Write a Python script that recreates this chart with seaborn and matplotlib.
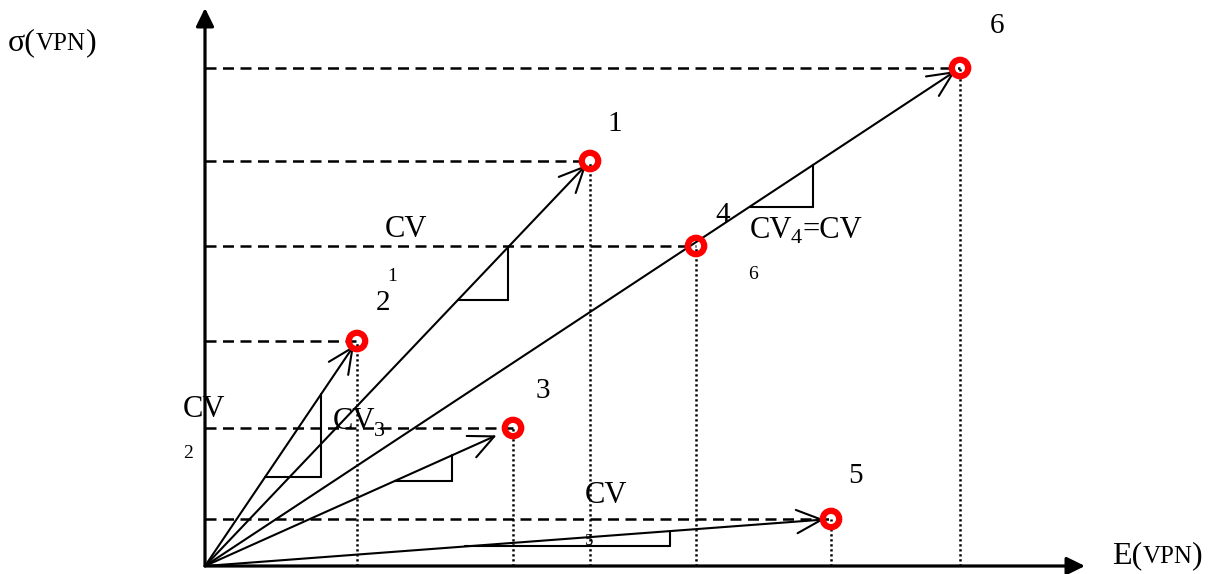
import matplotlib
matplotlib.use("Agg")
import matplotlib.pyplot as plt
import seaborn as sns
import numpy as np
import pandas as pd

# ---- data (portfolio points: expected value E and risk sigma) ----
point_labels = ["1", "2", "3", "4", "5", "6"]
E_values = [385, 152, 308, 491, 626, 755]
sigma_values = [405, 225, 138, 320, 47, 498]

df = pd.DataFrame({"label": point_labels, "E": E_values, "sigma": sigma_values})

sns.set_style("white")
plt.rcParams["font.family"] = ["Liberation Serif", "DejaVu Serif"]
plt.rcParams["text.color"] = "black"

fig = plt.figure(figsize=(12.18, 5.74), dpi=100)
ax = fig.add_axes([0, 0, 1, 1])
ax.set_xlim(-205, 1013)
ax.set_ylim(-8, 566)
ax.set_axis_off()

# axes with arrow heads
for tip in [(0, 558), (880, 0)]:
    ax.annotate("", xy=tip, xytext=(0, 0),
                arrowprops=dict(arrowstyle="-|>,head_length=0.55,head_width=0.27",
                                mutation_scale=20, lw=2.3, color="black",
                                shrinkA=0, shrinkB=0))

# dashed horizontal guides and dotted vertical guides
ax.hlines(df["sigma"], 0, df["E"], colors="black", lw=1.8,
          linestyles=[(0, (4.4, 2.6))], zorder=2)
ax.vlines(df["E"], 0, df["sigma"], colors="black", lw=1.8,
          linestyles=[(0, (0.9, 1.1))], zorder=2)

# rays from origin with open arrow heads
line_ends = {"1": 4, "2": 4, "3": 13, "6": 4, "5": 5}
for lab, shrink in line_ends.items():
    r = df[df["label"] == lab].iloc[0]
    ax.annotate("", xy=(r["E"], r["sigma"]), xytext=(0, 0),
                arrowprops=dict(arrowstyle="->,head_length=0.9,head_width=0.42",
                                mutation_scale=20, lw=1.5, color="black",
                                shrinkA=0, shrinkB=shrink), zorder=3)

# slope triangles (hypotenuse on each ray)
tri = {"2": (60, 116), "1": (253, 303), "3": (190, 247), "6": (545, 608), "5": (260, 465)}
for lab, (x0, x1) in tri.items():
    r = df[df["label"] == lab].iloc[0]
    k = r["sigma"] / r["E"]
    y0, y1 = k * x0, k * x1
    ax.plot([x0, x1], [y0, y0], color="black", lw=1.5)
    ax.plot([x1, x1], [y0, y1], color="black", lw=1.5)

# red ring markers
sns.scatterplot(data=df, x="E", y="sigma", s=140, marker="o", ax=ax, zorder=5,
                legend=False)
pts = ax.collections[-1]
pts.set_facecolor("none")
pts.set_edgecolor("#ff0000")
pts.set_linewidth(4.5)

# point number labels
num_pos = {"1": (410, 435), "2": (178, 256), "3": (338, 168),
           "4": (518, 344), "5": (650, 83), "6": (792, 533)}
for lab, (x, y) in num_pos.items():
    ax.text(x, y, lab, fontsize=21, ha="center", va="baseline", color="black")

# CV labels
ax.text(180, 329, "CV", fontsize=22, va="baseline")
ax.text(182, 285, "1", fontsize=14, va="baseline")
ax.text(-22, 149, "CV", fontsize=22, va="baseline")
ax.text(-22, 108, "2", fontsize=14, va="baseline")
t3 = ax.text(128, 137, "CV", fontsize=22, va="baseline")
ax.annotate("3", xy=(1, 130), xycoords=(t3, "data"), xytext=(-1, 0),
            textcoords="offset points", fontsize=16, ha="left", va="baseline")
t4 = ax.text(545, 328, "CV", fontsize=22, va="baseline")
a4 = ax.annotate("4", xy=(1, 323), xycoords=(t4, "data"), xytext=(-1, 0),
                 textcoords="offset points", fontsize=16, ha="left", va="baseline")
ax.annotate("=CV", xy=(1, 328), xycoords=(a4, "data"), fontsize=22,
            ha="left", va="baseline")
ax.text(543, 287, "6", fontsize=14, va="baseline")
ax.text(380, 63, "CV", fontsize=22, va="baseline")
ax.text(380, 21, "5", fontsize=12, va="baseline")

# axis titles
s1 = ax.text(-197, 516, "σ(", fontsize=23, va="baseline")
s2 = ax.annotate("VPN", xy=(1, 516), xycoords=(s1, "data"), fontsize=18,
                 ha="left", va="baseline")
ax.annotate(")", xy=(1, 516), xycoords=(s2, "data"), fontsize=23,
            ha="left", va="baseline")
e1 = ax.text(907, 3, "E(", fontsize=23, va="baseline")
e2 = ax.annotate("VPN", xy=(1, 3), xycoords=(e1, "data"), fontsize=18,
                 ha="left", va="baseline")
ax.annotate(")", xy=(1, 3), xycoords=(e2, "data"), fontsize=23,
            ha="left", va="baseline")

fig.savefig("out.png", dpi=100)
